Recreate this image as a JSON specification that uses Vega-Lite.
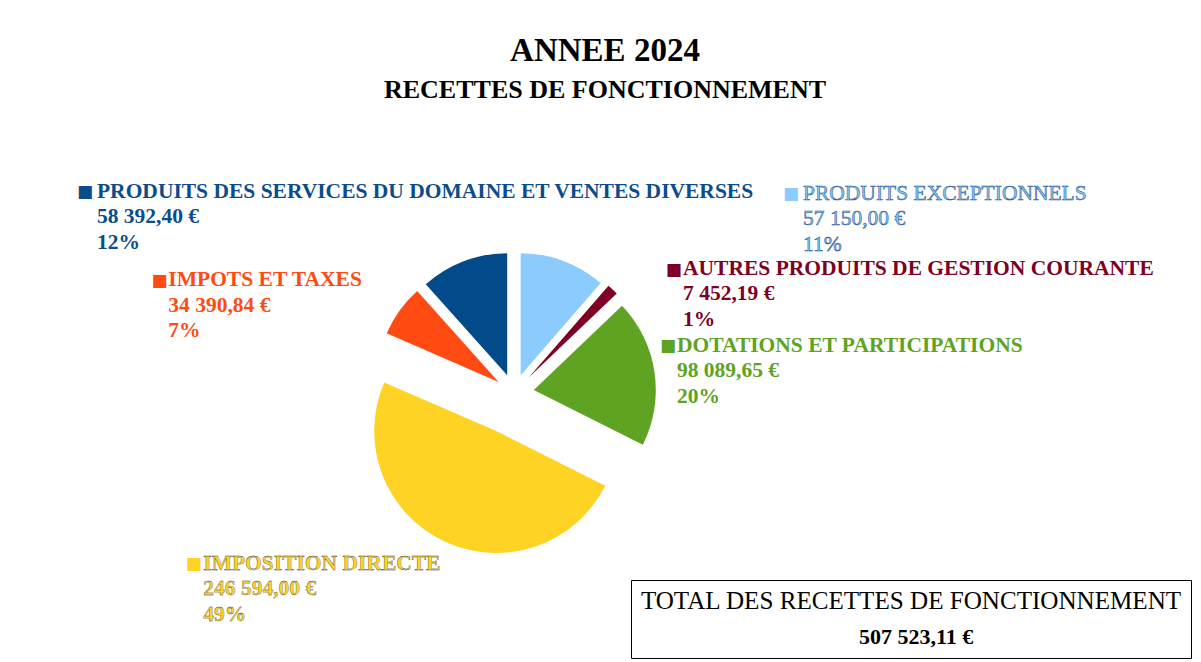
{
  "$schema": "https://vega.github.io/schema/vega-lite/v6.json",
  "width": 1028,
  "height": 538,
  "autosize": {"type": "none"},
  "padding": {"left": 0, "top": 124, "right": 173, "bottom": 0},
  "background": "white",
  "config": {"view": {"stroke": null}, "font": "Liberation Serif"},
  "title": {
    "text": "ANNEE 2024",
    "subtitle": "RECETTES DE FONCTIONNEMENT",
    "anchor": "middle",
    "dx": 91,
    "offset": 21,
    "font": "Liberation Serif",
    "fontSize": 33,
    "fontWeight": "bold",
    "color": "black",
    "subtitleFont": "Liberation Serif",
    "subtitleFontSize": 26,
    "subtitleFontWeight": "bold",
    "subtitleColor": "black",
    "subtitlePadding": 9
  },
  "datasets": {
    "slices": [
      {"key": "exc", "ord": 1, "value": 57150.00, "label": "PRODUITS EXCEPTIONNELS\n57 150,00 €\n11%"},
      {"key": "aut", "ord": 2, "value": 7452.19, "label": "AUTRES PRODUITS DE GESTION COURANTE\n7 452,19 €\n1%"},
      {"key": "dot", "ord": 3, "value": 98089.65, "label": "DOTATIONS ET PARTICIPATIONS\n98 089,65 €\n20%"},
      {"key": "imp", "ord": 4, "value": 246594.00, "label": "IMPOSITION DIRECTE\n246 594,00 €\n49%"},
      {"key": "impots", "ord": 5, "value": 34390.84, "label": "IMPOTS ET TAXES\n34 390,84 €\n7%"},
      {"key": "serv", "ord": 6, "value": 58392.40, "label": "PRODUITS DES SERVICES DU DOMAINE ET VENTES DIVERSES\n58 392,40 €\n12%"}
    ],
    "total": [{"tot": "507 523,11 €"}]
  },
  "data": {"name": "slices"},
  "layer": [
    {
      "mark": {"type": "arc", "radius": 122, "xOffset": 6.7, "yOffset": -17.8},
      "encoding": {
        "theta": {"field": "value", "type": "quantitative", "stack": true},
        "color": {"field": "key", "type": "nominal", "scale": {"domain": ["exc", "aut", "dot", "imp", "impots", "serv"], "range": ["#8BCBFD", "#7E0024", "#5EA321", "#FFD324", "#FF4B11", "#024A89"]}, "legend": null},
        "order": {"field": "ord", "type": "quantitative"},
        "opacity": {"condition": {"test": "datum.key === 'exc'", "value": 1}, "value": 0}
      }
    },
    {
      "mark": {"type": "arc", "radius": 122, "xOffset": 14.5, "yOffset": -15.2},
      "encoding": {
        "theta": {"field": "value", "type": "quantitative", "stack": true},
        "color": {"field": "key", "type": "nominal", "legend": null},
        "order": {"field": "ord", "type": "quantitative"},
        "opacity": {"condition": {"test": "datum.key === 'aut'", "value": 1}, "value": 0}
      }
    },
    {
      "mark": {"type": "arc", "radius": 122, "xOffset": 19.8, "yOffset": -3.0},
      "encoding": {
        "theta": {"field": "value", "type": "quantitative", "stack": true},
        "color": {"field": "key", "type": "nominal", "legend": null},
        "order": {"field": "ord", "type": "quantitative"},
        "opacity": {"condition": {"test": "datum.key === 'dot'", "value": 1}, "value": 0}
      }
    },
    {
      "mark": {"type": "arc", "radius": 122, "xOffset": -17.8, "yOffset": 38.0},
      "encoding": {
        "theta": {"field": "value", "type": "quantitative", "stack": true},
        "color": {"field": "key", "type": "nominal", "legend": null},
        "order": {"field": "ord", "type": "quantitative"},
        "opacity": {"condition": {"test": "datum.key === 'imp'", "value": 1}, "value": 0}
      }
    },
    {
      "mark": {"type": "arc", "radius": 122, "xOffset": -15.4, "yOffset": -11.1},
      "encoding": {
        "theta": {"field": "value", "type": "quantitative", "stack": true},
        "color": {"field": "key", "type": "nominal", "legend": null},
        "order": {"field": "ord", "type": "quantitative"},
        "opacity": {"condition": {"test": "datum.key === 'impots'", "value": 1}, "value": 0}
      }
    },
    {
      "mark": {"type": "arc", "radius": 122, "xOffset": -6.8, "yOffset": -17.8},
      "encoding": {
        "theta": {"field": "value", "type": "quantitative", "stack": true},
        "color": {"field": "key", "type": "nominal", "legend": null},
        "order": {"field": "ord", "type": "quantitative"},
        "opacity": {"condition": {"test": "datum.key === 'serv'", "value": 1}, "value": 0}
      }
    },
    {
      "mark": {"type": "text", "radius": 140, "align": "left", "baseline": "alphabetic", "dx": -367, "dy": -64.6, "lineBreak": "\n", "lineHeight": 25.5, "font": "Liberation Serif", "fontSize": 21.5, "fontWeight": "bold", "color": "#0B4C8C"},
      "encoding": {
        "theta": {"field": "value", "type": "quantitative", "stack": true},
        "detail": {"field": "key"},
        "order": {"field": "ord", "type": "quantitative"},
        "text": {"condition": {"test": "datum.key === 'serv'", "field": "label", "type": "nominal"}, "value": ""}
      }
    },
    {
      "mark": {"type": "text", "radius": 140, "align": "left", "baseline": "alphabetic", "dx": 240, "dy": -62.3, "lineBreak": "\n", "lineHeight": 25.5, "font": "Liberation Serif", "fontSize": 21.5, "fontWeight": "normal", "color": "#86C8FA", "stroke": "#1F4E8C", "strokeWidth": 0.5},
      "encoding": {
        "theta": {"field": "value", "type": "quantitative", "stack": true},
        "detail": {"field": "key"},
        "order": {"field": "ord", "type": "quantitative"},
        "text": {"condition": {"test": "datum.key === 'exc'", "field": "label", "type": "nominal"}, "value": ""}
      }
    },
    {
      "mark": {"type": "text", "radius": 140, "align": "left", "baseline": "alphabetic", "dx": 72.4, "dy": -17.1, "lineBreak": "\n", "lineHeight": 25.5, "font": "Liberation Serif", "fontSize": 21.5, "fontWeight": "bold", "color": "#7E0024"},
      "encoding": {
        "theta": {"field": "value", "type": "quantitative", "stack": true},
        "detail": {"field": "key"},
        "order": {"field": "ord", "type": "quantitative"},
        "text": {"condition": {"test": "datum.key === 'aut'", "field": "label", "type": "nominal"}, "value": ""}
      }
    },
    {
      "mark": {"type": "text", "radius": 140, "align": "left", "baseline": "alphabetic", "dx": 24.5, "dy": -20.7, "lineBreak": "\n", "lineHeight": 25.5, "font": "Liberation Serif", "fontSize": 21.5, "fontWeight": "bold", "color": "#5EA321"},
      "encoding": {
        "theta": {"field": "value", "type": "quantitative", "stack": true},
        "detail": {"field": "key"},
        "order": {"field": "ord", "type": "quantitative"},
        "text": {"condition": {"test": "datum.key === 'dot'", "field": "label", "type": "nominal"}, "value": ""}
      }
    },
    {
      "mark": {"type": "text", "radius": 140, "align": "left", "baseline": "alphabetic", "dx": -251.4, "dy": 49.8, "lineBreak": "\n", "lineHeight": 25.5, "font": "Liberation Serif", "fontSize": 21.5, "fontWeight": "bold", "color": "#FFD324", "stroke": "#1F2A55", "strokeWidth": 0.3},
      "encoding": {
        "theta": {"field": "value", "type": "quantitative", "stack": true},
        "detail": {"field": "key"},
        "order": {"field": "ord", "type": "quantitative"},
        "text": {"condition": {"test": "datum.key === 'imp'", "field": "label", "type": "nominal"}, "value": ""}
      }
    },
    {
      "mark": {"type": "text", "radius": 140, "align": "left", "baseline": "alphabetic", "dx": -232.1, "dy": -24.8, "lineBreak": "\n", "lineHeight": 25.5, "font": "Liberation Serif", "fontSize": 21.5, "fontWeight": "bold", "color": "#FF4B11"},
      "encoding": {
        "theta": {"field": "value", "type": "quantitative", "stack": true},
        "detail": {"field": "key"},
        "order": {"field": "ord", "type": "quantitative"},
        "text": {"condition": {"test": "datum.key === 'impots'", "field": "label", "type": "nominal"}, "value": ""}
      }
    },
    {
      "mark": {"type": "text", "radius": 140, "align": "left", "baseline": "alphabetic", "dx": -387, "dy": -65, "font": "DejaVu Sans", "fontSize": 17, "color": "#0B4C8C"},
      "encoding": {
        "theta": {"field": "value", "type": "quantitative", "stack": true},
        "detail": {"field": "key"},
        "order": {"field": "ord", "type": "quantitative"},
        "text": {"condition": {"test": "datum.key === 'serv'", "value": "■"}, "value": ""}
      }
    },
    {
      "mark": {"type": "text", "radius": 140, "align": "left", "baseline": "alphabetic", "dx": 220, "dy": -63, "font": "DejaVu Sans", "fontSize": 17, "color": "#8BCBFD"},
      "encoding": {
        "theta": {"field": "value", "type": "quantitative", "stack": true},
        "detail": {"field": "key"},
        "order": {"field": "ord", "type": "quantitative"},
        "text": {"condition": {"test": "datum.key === 'exc'", "value": "■"}, "value": ""}
      }
    },
    {
      "mark": {"type": "text", "radius": 140, "align": "left", "baseline": "alphabetic", "dx": 55, "dy": -17, "font": "DejaVu Sans", "fontSize": 17, "color": "#7E0024"},
      "encoding": {
        "theta": {"field": "value", "type": "quantitative", "stack": true},
        "detail": {"field": "key"},
        "order": {"field": "ord", "type": "quantitative"},
        "text": {"condition": {"test": "datum.key === 'aut'", "value": "■"}, "value": ""}
      }
    },
    {
      "mark": {"type": "text", "radius": 140, "align": "left", "baseline": "alphabetic", "dx": 7.5, "dy": -21, "font": "DejaVu Sans", "fontSize": 17, "color": "#5EA321"},
      "encoding": {
        "theta": {"field": "value", "type": "quantitative", "stack": true},
        "detail": {"field": "key"},
        "order": {"field": "ord", "type": "quantitative"},
        "text": {"condition": {"test": "datum.key === 'dot'", "value": "■"}, "value": ""}
      }
    },
    {
      "mark": {"type": "text", "radius": 140, "align": "left", "baseline": "alphabetic", "dx": -269, "dy": 49.5, "font": "DejaVu Sans", "fontSize": 17, "color": "#FFD324"},
      "encoding": {
        "theta": {"field": "value", "type": "quantitative", "stack": true},
        "detail": {"field": "key"},
        "order": {"field": "ord", "type": "quantitative"},
        "text": {"condition": {"test": "datum.key === 'imp'", "value": "■"}, "value": ""}
      }
    },
    {
      "mark": {"type": "text", "radius": 140, "align": "left", "baseline": "alphabetic", "dx": -249, "dy": -25, "font": "DejaVu Sans", "fontSize": 17, "color": "#FF4B11"},
      "encoding": {
        "theta": {"field": "value", "type": "quantitative", "stack": true},
        "detail": {"field": "key"},
        "order": {"field": "ord", "type": "quantitative"},
        "text": {"condition": {"test": "datum.key === 'impots'", "value": "■"}, "value": ""}
      }
    },
    {
      "data": {"name": "total"},
      "mark": {"type": "point", "opacity": 0},
      "encoding": {
        "shape": {
          "field": "tot",
          "type": "nominal",
          "legend": {
            "title": "TOTAL DES RECETTES DE FONCTIONNEMENT",
            "orient": "none",
            "legendX": 631,
            "legendY": 456,
            "strokeColor": "black",
            "fillColor": "white",
            "padding": 9,
            "titleFont": "Liberation Serif",
            "titleFontSize": 25.1,
            "titleFontWeight": "normal",
            "titleColor": "black",
            "titleAnchor": "middle",
            "titleLimit": 800,
            "titlePadding": 12,
            "labelFont": "Liberation Serif",
            "labelFontSize": 22,
            "labelFontWeight": "bold",
            "labelColor": "black",
            "labelOffset": -12,
            "labelLimit": 400,
            "symbolOpacity": 0,
            "symbolSize": 0,
            "symbolStrokeWidth": 0
          }
        }
      }
    }
  ]
}
